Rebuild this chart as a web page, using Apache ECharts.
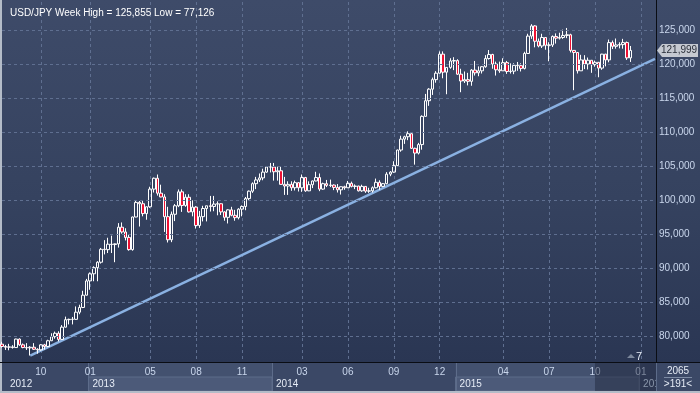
<!DOCTYPE html>
<html><head><meta charset="utf-8">
<script src="https://cdn.jsdelivr.net/npm/echarts@6/dist/echarts.min.js"></script>
<style>html,body{margin:0;padding:0;background:#b4bcc8;overflow:hidden}#c{width:700px;height:393px}</style>
</head><body><div id="c"></div>
<script>
// ---------- data ----------
const titleText = 'USD/JPY Week High = 125,855 Low = 77,126';
const firstWeek = '2012-07-16';
const weekCount = 186;
// weekly rows: [open, high, low, close]
const ohlc2012 = [
[78.80,79.15,78.30,78.45],[78.45,78.70,77.95,78.35],[78.35,78.85,77.90,78.40],[78.40,78.65,78.15,78.30],
[78.30,79.60,78.25,79.55],[79.55,79.65,78.55,78.70],[78.70,78.90,78.20,78.30],[78.30,78.95,77.95,78.25],
[78.25,78.50,77.126,78.35],[78.35,78.95,77.95,78.05],[78.05,78.20,77.40,77.95],[77.95,78.80,77.85,78.70],
[78.70,78.85,78.00,78.45],[78.45,79.45,78.35,79.30],[79.30,80.40,79.25,79.90],[79.90,80.65,79.60,80.40],
[80.40,80.70,79.20,79.50],[79.50,81.60,79.45,81.30],[81.30,82.85,81.25,82.40],[82.40,82.55,81.70,82.45],
[82.45,82.80,81.70,82.45],[82.45,84.35,82.40,83.50],[83.50,84.60,83.20,84.20],[84.20,86.65,84.10,86.00],
[86.00,88.40,85.95,88.10]
];
const ohlc2013 = [
[88.10,89.35,86.80,89.15],[89.15,90.25,88.05,90.05],[90.05,91.00,88.05,90.85],[90.85,92.95,90.65,92.75],
[92.75,94.10,92.00,92.70],[92.70,94.45,92.20,93.50],[93.50,94.75,92.20,93.45],[93.45,93.60,90.85,93.55],
[93.55,96.60,93.00,96.00],[96.00,96.70,95.05,95.30],[95.30,95.85,94.05,94.50],[94.50,94.90,92.55,92.70],
[92.70,97.55,92.55,97.50],[97.50,99.90,97.45,99.65],[99.65,99.85,96.10,99.45],[99.45,99.95,97.60,98.00],
[98.00,99.05,97.10,99.00],[99.00,101.95,98.85,101.60],[101.60,103.30,101.10,103.20],[103.20,103.75,100.65,101.00],
[101.00,102.25,100.40,100.45],[100.45,100.85,95.30,97.55],[97.55,99.00,93.75,94.15],[94.15,98.30,93.80,97.90],
[97.90,99.40,96.90,99.15],[99.15,101.55,98.95,101.20],[101.20,101.55,98.25,99.20],[99.20,100.85,99.00,100.40],
[100.40,100.85,98.15,98.25],[98.25,99.95,97.60,98.95],[98.95,99.10,95.80,96.25],[96.25,98.40,95.90,97.55],
[97.55,99.15,96.85,98.75],[98.75,99.15,96.85,99.15],[99.15,100.60,98.30,99.05],[99.05,100.60,98.35,99.40],
[99.40,99.80,97.75,99.45],[99.45,99.50,97.80,98.25],[98.25,98.35,96.95,97.45],[97.45,98.65,96.55,98.55],
[98.55,99.00,97.60,97.75],[97.75,98.55,96.95,97.40],[97.40,98.80,97.15,98.65],[98.65,99.20,97.60,99.05],
[99.05,100.45,98.50,100.20],[100.20,101.40,99.90,101.30],[101.30,102.60,101.05,102.40],[102.40,103.40,101.60,102.95],
[102.95,103.90,102.65,103.25],[103.25,104.60,102.90,104.10],[104.10,104.85,104.00,104.85],[104.85,105.45,104.05,104.85]
];
const ohlc2014 = [
[104.85,105.45,102.85,104.15],[104.15,104.90,102.85,104.30],[104.30,104.90,102.30,102.30],[102.30,103.40,100.75,102.05],
[102.05,102.75,100.75,102.30],[102.30,102.75,101.35,101.80],[101.80,102.85,101.40,102.55],[102.55,102.60,101.25,101.80],
[101.80,103.75,101.20,103.30],[103.30,103.40,101.20,101.35],[101.35,102.75,101.30,102.25],[102.25,102.85,101.75,102.80],
[102.80,104.15,102.75,103.30],[103.30,103.90,101.30,101.60],[101.60,102.55,101.50,102.40],[102.40,102.95,101.90,102.15],
[102.15,103.00,101.90,102.20],[102.20,102.30,101.45,101.85],[101.85,102.35,101.10,101.50],[101.50,101.90,100.80,101.95],
[101.95,102.10,101.50,101.80],[101.80,102.80,101.80,102.45],[102.45,102.70,101.85,102.00],[102.00,102.30,101.60,102.05],
[102.05,102.10,101.25,101.35],[101.35,102.25,101.20,102.00],[102.00,102.05,101.05,101.30],[101.30,101.80,101.05,101.35],
[101.35,102.00,101.10,101.80],[101.80,103.15,101.70,102.60],[102.60,102.90,101.50,102.00],[102.00,102.50,101.90,102.40],
[102.40,104.10,102.30,103.80],[103.80,104.25,103.50,104.10],[104.10,105.70,104.00,105.05],[105.05,107.40,105.00,107.35],
[107.35,109.45,107.10,108.95],[108.95,109.45,108.25,109.30],[109.30,110.10,108.80,109.75],[109.75,109.80,107.50,107.60],
[107.60,107.70,105.20,106.90],[106.90,108.40,106.70,108.15],[108.15,112.45,107.40,112.30],[112.30,115.60,112.30,114.60],
[114.60,116.45,113.85,116.30],[116.30,118.00,115.45,117.70],[117.70,118.95,117.25,118.65],[118.65,121.85,118.60,121.45],
[121.45,121.85,117.90,118.80],[118.80,119.45,115.55,119.50],[119.50,120.85,119.30,120.45],[120.45,121.00,119.10,120.50]
];
const ohlc2015 = [
[120.50,120.70,118.40,118.50],[118.50,119.30,115.85,117.50],[117.50,118.90,117.20,117.70],[117.70,118.70,116.85,117.45],
[117.45,119.25,116.80,119.10],[119.10,120.45,118.30,118.70],[118.70,119.65,118.20,119.00],[119.00,119.70,118.60,119.60],
[119.60,121.30,119.45,120.80],[120.80,122.05,120.65,121.40],[121.40,121.50,119.30,120.00],[120.00,120.35,118.30,119.15],
[119.15,120.35,118.70,119.00],[119.00,120.85,119.00,120.20],[120.20,120.45,118.55,118.90],[118.90,120.10,118.60,118.95],
[118.95,120.10,118.50,119.80],[119.80,120.30,119.00,119.75],[119.75,120.10,118.90,119.35],[119.35,121.80,119.20,121.55],
[121.55,124.45,121.50,124.10],[124.10,125.855,123.70,125.60],[125.60,125.70,122.45,123.35],[123.35,123.75,122.45,122.65],
[122.65,124.45,122.35,123.90],[123.90,123.95,122.10,122.75],[122.75,123.20,120.40,122.80],[122.80,124.20,122.50,124.05],
[124.05,124.50,123.00,123.80],[123.80,124.60,123.60,123.90],[123.90,125.05,123.70,124.20],[124.20,125.30,123.80,124.30],
[124.30,124.45,121.70,122.00],[122.00,122.05,116.15,121.70],[121.70,121.75,118.60,119.00],[119.00,121.35,119.00,120.60],
[120.60,121.30,119.25,120.00],[120.00,120.95,119.20,120.55],[120.55,120.55,118.70,119.90],[119.90,120.50,119.60,120.25],
[120.25,120.30,118.05,119.40],[119.40,121.50,119.15,121.45],[121.45,121.50,119.65,120.60],[120.60,123.60,120.25,123.15],
[123.15,123.45,122.20,122.60],[122.60,123.75,122.25,122.80],[122.80,123.20,122.30,122.85],[122.85,123.70,122.25,123.15],
[123.15,123.30,120.60,120.90],[120.90,122.65,120.30,121.999]
];
const lastPrice = 121.999;
const yLabelValues = [80,85,90,95,100,105,110,115,120,125];
const yMin = 76.176, yMax = 129.118;
const monthLabelWeeks = ['2012-10-01','2013-01-07','2013-05-06','2013-08-05','2013-11-04','2014-03-03','2014-06-02',
  '2014-09-01','2014-12-01','2015-04-06','2015-07-06','2015-10-05','2016-01-04'];
const years = [['2012','2012-07-16'],['2013','2013-01-07'],['2014','2014-01-06'],['2015','2015-01-05'],['2016','2016-01-04']];
const trendLine = [['2012-09-10',77.126],['2016-02-01',120.75]];
const footerTop = '2065', footerBottom = '>191<', markerText = '7';

// ---------- build ----------
const weeks = [];
const t0 = Date.parse(firstWeek + 'T00:00:00Z');
for (let i = 0; i < weekCount; i++) weeks.push(new Date(t0 + i * 7 * 86400000).toISOString().slice(0, 10));
const rows = ohlc2012.concat(ohlc2013, ohlc2014, ohlc2015);
const candles = rows.map(r => [r[0], r[3], r[2], r[1]]);
const fmt = v => v.toFixed(3).replace('.', ',');
const isMonthTick = (i, v) => monthLabelWeeks.indexOf(v) >= 0;
const FONT = '"Liberation Sans", Arial, sans-serif';

const chart = echarts.init(document.getElementById('c'), null, {renderer: 'canvas'});
chart.setOption({
  animation: false,
  backgroundColor: 'transparent',
  textStyle: {fontFamily: FONT},
  title: {text: titleText, left: 5, top: 3, textStyle: {color: '#ffffff', fontSize: 10, fontWeight: 'normal', fontFamily: FONT}},
  grid: {left: 2, top: 2, width: 653, height: 360, containLabel: false},
  xAxis: {
    type: 'category', data: weeks, boundaryGap: false,
    axisLine: {show: false}, axisTick: {show: false},
    axisLabel: {interval: isMonthTick, formatter: v => v.slice(5, 7),
      color: '#c9d6ec', fontSize: 10, margin: 5, fontFamily: FONT},
    splitLine: {show: true, interval: isMonthTick, lineStyle: {color: '#5f6f90', type: [3, 3], width: 1}}
  },
  yAxis: {
    type: 'value', position: 'right', min: yMin, max: yMax, scale: true,
    axisLine: {show: false}, axisTick: {show: false}, splitLine: {show: false},
    axisLabel: {customValues: yLabelValues, formatter: fmt, color: '#c9d6ec', fontSize: 10, margin: 4, fontFamily: FONT}
  },
  series: [
    {type: 'line', data: [], z: 1, silent: true,
      markLine: {silent: true, symbol: 'none', label: {show: false}, animation: false,
        lineStyle: {color: '#5f6f90', type: [3, 3], width: 1},
        data: yLabelValues.map(v => ({yAxis: v}))}},
    {type: 'line', data: trendLine, z: 2, symbol: 'none', silent: true,
      lineStyle: {color: '#8ab1e2', width: 2.5}},
    {type: 'candlestick', data: candles, z: 3, barWidth: 3,
      itemStyle: {color: 'rgba(0,0,0,0)', color0: '#ee1133', borderColor: '#ffffff', borderColor0: '#ffffff', borderWidth: 1}}
  ]
});

// ---------- decorations derived from the scales ----------
const px = c => chart.convertToPixel({xAxisIndex: 0}, c);
const py = v => chart.convertToPixel({yAxisIndex: 0}, v);
const plotL = 2, plotR = 655;
const g = [];
const grad = {type: 'linear', x: 0, y: 0, x2: 0, y2: 1, colorStops: [{offset: 0, color: '#3e4b69'}, {offset: 0.55, color: '#35425f'}, {offset: 1, color: '#2a3653'}]};
g.push({type: 'rect', z: -20, shape: {x: 2, y: 0, width: 698, height: 362}, style: {fill: grad}});
// bottom panel
g.push({type: 'rect', z: -15, shape: {x: 2, y: 362, width: 698, height: 29}, style: {fill: '#3b4866'}});
years.forEach((y, k) => {
  const idx = weeks.indexOf(y[1]);
  const xb = k === 0 ? plotL : (px(weeks[idx - 1]) + px(weeks[idx])) / 2;
  const xe = k + 1 < years.length ? (px(weeks[weeks.indexOf(years[k + 1][1]) - 1]) + px(years[k + 1][1])) / 2 : plotR;
  if (k % 2 === 1) {
    g.push({type: 'rect', z: -14, shape: {x: xb, y: 363, width: xe - xb, height: 14}, style: {fill: '#43516f'}});
    g.push({type: 'rect', z: -14, shape: {x: xb, y: 377, width: xe - xb, height: 14}, style: {fill: '#4c5a79', stroke: '#5d6c8a', lineWidth: 1}});
  }
  if (k > 0) g.push({type: 'line', z: -13, shape: {x1: Math.round(xb) + 0.5, y1: 363, x2: Math.round(xb) + 0.5, y2: 391}, style: {stroke: '#5d6c8a', lineWidth: 1}});
  g.push({type: 'text', z: 6, x: xb + (k === 0 ? 8 : 4), y: 384, style: {text: y[0], fill: k === 4 ? '#8a96aa' : '#e6ecf6', font: '10px ' + FONT, verticalAlign: 'middle'}});
});
// dark selection overlay (last quarter)
const ovX = px(monthLabelWeeks[11]);
g.push({type: 'rect', z: 5, shape: {x: ovX, y: 363, width: plotR + 1 - ovX, height: 28}, style: {fill: 'rgba(28,36,56,0.45)'}});
// separator lines
g.push({type: 'line', z: 8, shape: {x1: 0, y1: 362.5, x2: 700, y2: 362.5}, style: {stroke: '#0a0d14', lineWidth: 1}});
g.push({type: 'line', z: 8, shape: {x1: 656.5, y1: 0, x2: 656.5, y2: 362}, style: {stroke: '#0a0d14', lineWidth: 1}});
g.push({type: 'line', z: 8, shape: {x1: 656.5, y1: 363, x2: 656.5, y2: 391}, style: {stroke: '#5d6c8a', lineWidth: 1}});
// right bottom box
g.push({type: 'rect', z: 6, shape: {x: 657, y: 363, width: 43, height: 28}, style: {fill: '#3b4866'}});
g.push({type: 'text', z: 7, x: 678, y: 371, style: {text: footerTop, fill: '#e6ecf6', font: '10px ' + FONT, align: 'center', verticalAlign: 'middle'}});
g.push({type: 'line', z: 7, shape: {x1: 664, y1: 377.5, x2: 692, y2: 377.5}, style: {stroke: '#7d8ba4', lineWidth: 1}});
g.push({type: 'text', z: 7, x: 678, y: 384, style: {text: footerBottom, fill: '#e6ecf6', font: '10px ' + FONT, align: 'center', verticalAlign: 'middle'}});
// frame
g.push({type: 'rect', z: 9, shape: {x: 0, y: 391, width: 700, height: 2}, style: {fill: '#b4bcc8'}});
// last price tag
const yp = py(lastPrice);
g.push({type: 'polygon', z: 10, shape: {points: [[657, yp], [662, yp - 6.5], [698, yp - 6.5], [698, yp + 6.5], [662, yp + 6.5]]}, style: {fill: '#c5c9d1'}});
g.push({type: 'text', z: 11, x: 661, y: yp, style: {text: fmt(lastPrice), fill: '#2a2f3a', font: '10px ' + FONT, verticalAlign: 'middle'}});
// marker near bottom right
g.push({type: 'polygon', z: 10, shape: {points: [[627, 358], [631, 354], [635, 358]]}, style: {fill: '#7c889c'}});
g.push({type: 'text', z: 10, x: 636, y: 357, style: {text: markerText, fill: '#e6ecf6', font: '11px ' + FONT, verticalAlign: 'middle'}});
chart.setOption({graphic: g});
</script></body></html>
